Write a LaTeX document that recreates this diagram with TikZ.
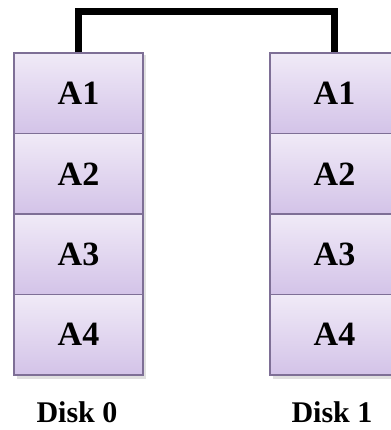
\documentclass[tikz,border=0pt]{standalone}
\usepackage{fontspec}
\setmainfont{Liberation Serif}
\usetikzlibrary{shadows}
\definecolor{celltop}{HTML}{F0EAF7}
\definecolor{cellbot}{HTML}{D3C3E8}
\definecolor{cellline}{HTML}{7E6F96}
\tikzset{
  cell/.style={rectangle, draw=cellline, line width=1.2pt, top color=celltop, bottom color=cellbot,
    minimum width=129pt, minimum height=80.5pt, inner sep=0pt,
    font=\fontsize{34}{38}\selectfont\bfseries},
  disklabel/.style={font=\fontsize{30}{34}\selectfont\bfseries, inner sep=0pt},
  link/.style={line width=7pt, black}
}
\begin{document}
\begin{tikzpicture}[x=1pt,y=1pt]
\useasboundingbox (0,0) rectangle (390,430);
\fill[black!12] (17,51) rectangle (146,375);
\fill[black!12] (273,51) rectangle (402,375);
\foreach \i/\t in {1/A1,2/A2,3/A3,4/A4}{
  \node[cell] (l\i) at (78.5, {377-80.5*(\i-0.5)}) {\t};
  \node[cell] (r\i) at (334.5, {377-80.5*(\i-0.5)}) {\t};
}
\node[disklabel] (d0) at (77,18) {Disk 0};
\node[disklabel] (d1) at (332,18) {Disk 1};
\draw[link] (l1.north) -- ++(0,41) -| (r1.north);
\end{tikzpicture}
\end{document}
